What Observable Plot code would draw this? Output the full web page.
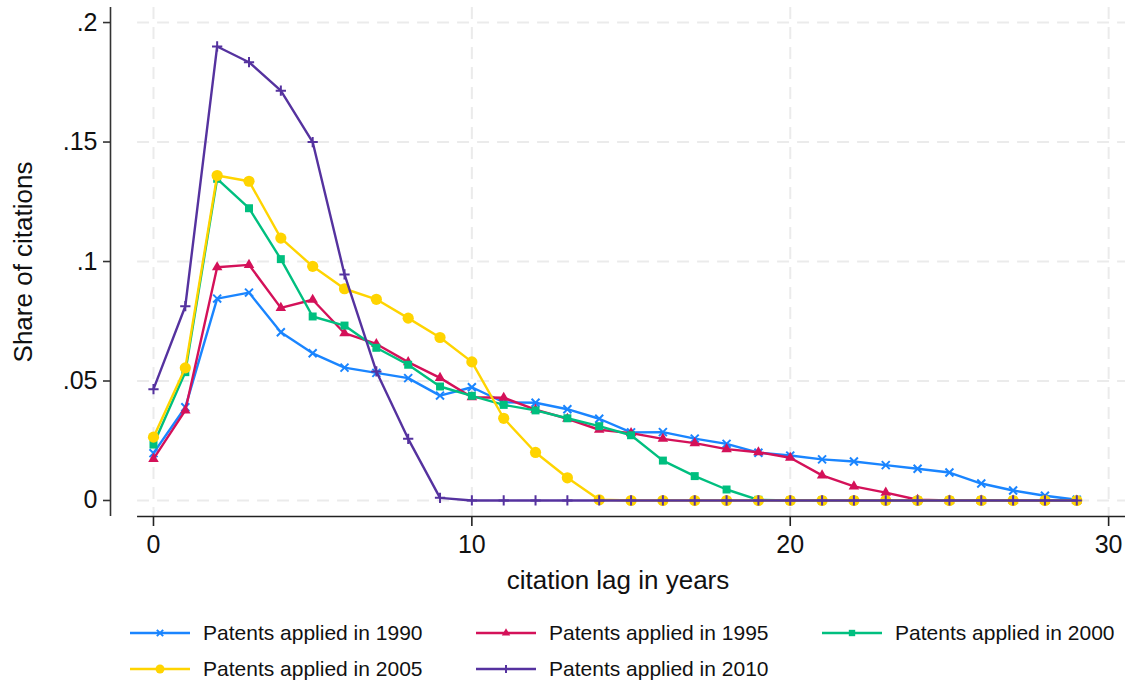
<!DOCTYPE html>
<html>
<head>
<meta charset="utf-8">
<script src="https://cdn.jsdelivr.net/npm/d3@7"></script>
<script src="https://cdn.jsdelivr.net/npm/@observablehq/plot@0.6"></script>
<style>
  body { margin: 0; background: #fff; font-family: "Liberation Sans", Arial, Helvetica, sans-serif; }
  #legend { display: grid; grid-template-columns: 346px 346px 300px; margin-left: 130px; padding-top: 15px; }
  .item { display: flex; align-items: center; height: 36px; }
  .item span { margin-left: 13px; font-size: 21px; color: #111; white-space: nowrap; }
</style>
</head>
<body>
<div id="chart"></div>
<div id="legend"></div>
<script>
const lags = [0,1,2,3,4,5,6,7,8,9,10,11,12,13,14,15,16,17,18,19,20,21,22,23,24,25,26,27,28,29];
const seriesNames = ["Patents applied in 1990","Patents applied in 1995","Patents applied in 2000","Patents applied in 2005","Patents applied in 2010"];
const s1990 = [0.0198,0.039,0.0845,0.087,0.0704,0.0616,0.0556,0.0534,0.0512,0.0439,0.0474,0.0411,0.0409,0.0382,0.0342,0.0285,0.0286,0.0259,0.0237,0.0200,0.0188,0.0172,0.0163,0.0148,0.0133,0.0117,0.0071,0.0042,0.0020,0.0003];
const s1995 = [0.0174,0.0377,0.0976,0.0986,0.0806,0.0840,0.0700,0.0655,0.0579,0.0513,0.0432,0.0430,0.0380,0.0342,0.0296,0.0282,0.0258,0.0240,0.0215,0.0202,0.0179,0.0105,0.0059,0.0033,0.0003,0,0,0,0,0];
const s2000 = [0.0234,0.0537,0.1346,0.1223,0.1010,0.0770,0.0732,0.0639,0.0568,0.0477,0.0438,0.0400,0.0377,0.0344,0.0311,0.0273,0.0167,0.0102,0.0046,0.0003,0,0,0,0,0,0,0,0,0,0];
const s2005 = [0.0265,0.0555,0.1360,0.1336,0.1098,0.0980,0.0886,0.0842,0.0763,0.0682,0.0580,0.0344,0.0201,0.0095,0.0003,0,0,0,0,0,0,0,0,0,0,0,0,0,0,0];
const s2010 = [0.0466,0.0813,0.1900,0.1834,0.1715,0.1500,0.0946,0.0540,0.0258,0.0011,0,0,0,0,0,0,0,0,0,0,0,0,0,0,0,0,0,0,0,0];
const xTicks = [0,10,20,30];
const yTicks = [0,0.05,0.1,0.15,0.2];
const yTickLabels = ["0",".05",".1",".15",".2"];

const colors = ["#1a85ff","#d41159","#00bf7f","#ffd400","#55329f"];
const symbols = [d3.symbolTimes, d3.symbolTriangle, d3.symbolSquare, d3.symbolCircle, d3.symbolPlus];
const symR = [3.7, 3.9, 4.5, 5.6, 3.4];
const symStroke = [true, false, false, false, true];
const allSeries = [s1990, s1995, s2000, s2005, s2010];

const xDomain = [-1.35, 30.53];
const yDomain = [-0.0067, 0.2063];
const xAxisStart = -0.5;

const marks = [];
marks.push(Plot.gridY(yTicks, {x1: xAxisStart, x2: xDomain[1], stroke: "#ebebeb", strokeOpacity: 1, strokeWidth: 2, strokeDasharray: "12,8"}));
marks.push(Plot.gridX(xTicks, {stroke: "#ebebeb", strokeOpacity: 1, strokeWidth: 2, strokeDasharray: "12,8"}));
marks.push(Plot.ruleX([xDomain[0]], {stroke: "#333", strokeWidth: 1.6}));
marks.push(Plot.ruleY([yDomain[0]], {x1: xAxisStart, x2: xDomain[1], stroke: "#222", strokeWidth: 1.6}));
marks.push(Plot.axisY(yTicks, {tickFormat: (d) => yTickLabels[yTicks.indexOf(d)], tickSize: 7, tickPadding: 6, fontSize: 25, stroke: "#333", strokeWidth: 1.6, label: null}));
marks.push(Plot.axisY({ticks: [], label: "Share of citations", labelAnchor: "center", labelArrow: "none", labelOffset: 97, fontSize: 26}));
marks.push(Plot.axisX(xTicks, {tickSize: 10, tickPadding: 9, fontSize: 25, stroke: "#222", strokeWidth: 1.6, label: null}));
marks.push(Plot.axisX({ticks: [], label: "citation lag in years", labelAnchor: "center", labelArrow: "none", labelOffset: 72, fontSize: 26}));

allSeries.forEach((vals, k) => {
  const data = lags.map((lag, i) => ({lag, share: vals[i]}));
  marks.push(Plot.line(data, {x: "lag", y: "share", stroke: colors[k], strokeWidth: 2.4}));
  if (symStroke[k]) {
    marks.push(Plot.dot(data, {x: "lag", y: "share", symbol: symbols[k], r: symR[k], stroke: colors[k], strokeWidth: 2, fill: "none"}));
  } else {
    marks.push(Plot.dot(data, {x: "lag", y: "share", symbol: symbols[k], r: symR[k], fill: colors[k], stroke: "none"}));
  }
});

const chart = Plot.plot({
  width: 1130,
  height: 600,
  marginLeft: 110,
  marginRight: 5,
  marginTop: 7,
  marginBottom: 84,
  x: {domain: xDomain},
  y: {domain: yDomain},
  style: {fontFamily: "'Liberation Sans', Arial, Helvetica, sans-serif", color: "#111", background: "#fff", overflow: "visible"},
  marks
});
document.getElementById("chart").appendChild(chart);

const legend = document.getElementById("legend");
seriesNames.forEach((name, k) => {
  const item = document.createElement("div");
  item.className = "item";
  const svg = d3.create("svg").attr("width", 60).attr("height", 20);
  svg.append("line").attr("x1", 0).attr("x2", 60).attr("y1", 10).attr("y2", 10).attr("stroke", colors[k]).attr("stroke-width", 2.4);
  const sz = Math.PI * Math.pow(symR[k] * 0.8, 2);
  const p = svg.append("path").attr("transform", "translate(30,10)").attr("d", d3.symbol(symbols[k], sz)());
  if (symStroke[k]) p.attr("fill", "none").attr("stroke", colors[k]).attr("stroke-width", 2);
  else p.attr("fill", colors[k]);
  item.appendChild(svg.node());
  const span = document.createElement("span");
  span.textContent = name;
  item.appendChild(span);
  legend.appendChild(item);
});
</script>
</body>
</html>
